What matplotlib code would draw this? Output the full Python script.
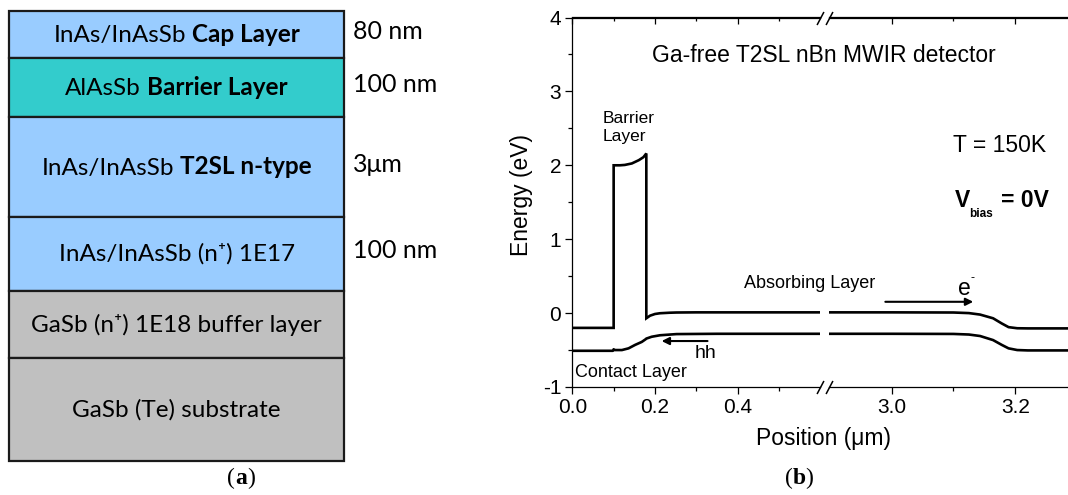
import numpy as np
import matplotlib
matplotlib.use('Agg')
import matplotlib.pyplot as plt
from matplotlib.offsetbox import TextArea, HPacker, AnnotationBbox

plt.rcParams['font.family'] = 'Liberation Sans'
plt.rcParams['axes.unicode_minus'] = False

# (a) layer stack, listed top to bottom
layer_plain = ['InAs/InAsSb', 'AlAsSb', 'InAs/InAsSb', 'InAs/InAsSb (n\u207a) 1E17',
               'GaSb (n\u207a) 1E18 buffer layer', 'GaSb (Te) substrate']
layer_bold = ['Cap Layer', 'Barrier Layer', 'T2SL n-type', '', '', '']
layer_thickness = ['80 nm', '100 nm', '3\u03bcm', '100 nm', '', '']
layer_height = [47, 59, 100, 74, 67, 103]
layer_color = ['#99CCFF', '#33CCCC', '#99CCFF', '#99CCFF', '#C0C0C0', '#C0C0C0']

# (b) band edges, first segment (0 - 0.6 um)
cb_left_x = [0.0, 0.1, 0.1, 0.115, 0.127, 0.144, 0.161, 0.172, 0.179, 0.179, 0.188, 0.2, 0.212, 0.235, 0.252, 0.3, 0.4, 0.599]
cb_left_e = [-0.2, -0.2, 2.0, 2.0, 2.005, 2.025, 2.07, 2.11, 2.16, -0.07, -0.035, -0.012, -0.002, 0.005, 0.008, 0.01, 0.01, 0.01]
vb_left_x = [0.0, 0.098, 0.1, 0.102, 0.12, 0.136, 0.152, 0.168, 0.177, 0.179, 0.192, 0.212, 0.252, 0.35, 0.599]
vb_left_e = [-0.51, -0.51, -0.49, -0.5, -0.5, -0.477, -0.43, -0.39, -0.355, -0.345, -0.32, -0.30, -0.284, -0.28, -0.28]

# second segment (2.9 - 3.3 um)
cb_right_x = [2.899, 3.0, 3.1, 3.125, 3.143, 3.164, 3.178, 3.189, 3.203, 3.22, 3.286]
cb_right_e = [0.01, 0.01, 0.008, 0.0, -0.02, -0.07, -0.14, -0.19, -0.205, -0.207, -0.207]
vb_right_x = [2.899, 3.0, 3.1, 3.125, 3.143, 3.164, 3.178, 3.189, 3.203, 3.22, 3.286]
vb_right_e = [-0.28, -0.28, -0.282, -0.29, -0.31, -0.365, -0.43, -0.477, -0.5, -0.505, -0.505]

left_major = [0.0, 0.2, 0.4]
left_minor = [0.1, 0.3, 0.5]
right_major = [3.0, 3.2]
right_minor = [3.1]
y_major = [-1, 0, 1, 2, 3, 4]
y_minor = [-0.5, 0.5, 1.5, 2.5, 3.5]

W, H = 1068, 495
fig = plt.figure(figsize=(W / 100, H / 100), dpi=100)


def mixed_label(ax, x, y, parts, size, family, xycoords='data', sep=4.5):
    areas = [TextArea(t, textprops=dict(fontsize=size, fontweight=w, family=family))
             for t, w in parts if t]
    box = HPacker(children=areas, align='baseline', pad=0, sep=sep)
    ab = AnnotationBbox(box, (x, y), xycoords=xycoords, frameon=False,
                        box_alignment=(0.5, 0.5), pad=0)
    ax.add_artist(ab)


# ---------------- (a) layer structure ----------------
ax_a = fig.add_axes([9.3 / W, 34 / H, 334.7 / W, 450 / H])
total = sum(layer_height)
tops = total - np.concatenate([[0], np.cumsum(layer_height)[:-1]])
for name, bold, thick, h, top, c in zip(layer_plain, layer_bold, layer_thickness,
                                        layer_height, tops, layer_color):
    ax_a.bar(0, h, bottom=top - h, width=1, align='edge', color=c,
             edgecolor='#1a1a1a', linewidth=1.6, clip_on=False)
    mid = top - h / 2
    mixed_label(ax_a, 0.5, mid, [(name, 'normal'), (bold, 'bold')], 17.5,
                ['Lato', 'DejaVu Sans'])
    if thick:
        ax_a.text(1.027, mid + 3, thick, fontsize=18, family='Lato',
                  ha='left', va='center')
ax_a.set_xlim(0, 1)
ax_a.set_ylim(0, total)
ax_a.axis('off')

# ---------------- (b) band diagram with broken x axis ----------------
bot, hgt = 108 / H, 369.5 / H
ax_l = fig.add_axes([572.3 / W, bot, 247.7 / W, hgt])
ax_r = fig.add_axes([829 / W, bot, 239 / W, hgt])
for ax in (ax_l, ax_r):
    ax.patch.set_visible(False)

ax_l.plot(cb_left_x, cb_left_e, color='k', lw=1.9, solid_joinstyle='miter')
ax_l.plot(vb_left_x, vb_left_e, color='k', lw=1.9)
ax_r.plot(cb_right_x, cb_right_e, color='k', lw=1.9)
ax_r.plot(vb_right_x, vb_right_e, color='k', lw=1.9)

ax_l.set_xlim(0, 0.599)
ax_r.set_xlim(2.899, 3.285)
for ax, major, minor in ((ax_l, left_major, left_minor), (ax_r, right_major, right_minor)):
    ax.set_ylim(-1, 4)
    ax.set_xticks(major)
    ax.set_xticks(minor, minor=True)
    ax.set_xticklabels([f'{v:.1f}' for v in major])
    ax.tick_params(axis='x', which='major', direction='out', length=5, width=0.9,
                   labelsize=15, pad=3)
    ax.tick_params(axis='x', which='minor', direction='out', length=3, width=0.9)
    ax.spines['right'].set_visible(False)
    for s in ('top', 'bottom', 'left'):
        ax.spines[s].set_linewidth(0.9)
    top = ax.secondary_xaxis('top')
    top.set_xticks(major)
    top.set_xticks(minor, minor=True)
    top.tick_params(which='major', direction='in', length=5, width=0.9,
                    labeltop=False, labelbottom=False)
    top.tick_params(which='minor', direction='in', length=3, width=0.9)
    top.spines['top'].set_linewidth(0.9)

ax_l.set_yticks(y_major)
ax_l.set_yticks(y_minor, minor=True)
ax_l.tick_params(axis='y', which='major', direction='out', length=5, width=0.9,
                 labelsize=15, pad=3)
ax_l.tick_params(axis='y', which='minor', direction='out', length=3, width=0.9)
ax_l.set_ylabel('Energy (eV)', fontsize=16.5)
ax_l.yaxis.set_label_coords(-0.159, 0.52)
ax_r.spines['left'].set_visible(False)
ax_r.set_yticks([])

# break marks on the axis
slash = [(-1, -1.9), (1, 1.9)]
kw = dict(marker=slash, markersize=9.4, linestyle='none', color='k', mec='k',
          mew=1.1, clip_on=False)
ax_l.plot([1, 1], [0, 1], transform=ax_l.transAxes, **kw)
ax_r.plot([0, 0], [0, 1], transform=ax_r.transAxes, **kw)

# annotations
ax_l.text(0.609, 3.49, 'Ga-free T2SL nBn MWIR detector', fontsize=16.5,
          ha='center', va='center')
ax_l.text(0.074, 2.505, 'Barrier\nLayer', fontsize=12.5, ha='left', va='center',
          linespacing=1.25)
ax_l.text(0.4145, 0.40, 'Absorbing Layer', fontsize=13, ha='left', va='center')
ax_l.text(0.007, -0.806, 'Contact Layer', fontsize=13, ha='left', va='center')
ax_l.text(0.321, -0.545, 'hh', fontsize=14, ha='center', va='center')
ax_l.annotate('', xy=(0.216, -0.378), xytext=(0.327, -0.378),
              arrowprops=dict(arrowstyle='-|>', color='k', lw=1.5, mutation_scale=11,
                              shrinkA=0, shrinkB=0))

ax_r.annotate('', xy=(3.132, 0.153), xytext=(2.99, 0.153),
              arrowprops=dict(arrowstyle='-|>', color='k', lw=1.5, mutation_scale=11,
                              shrinkA=0, shrinkB=0), annotation_clip=False)
ax_r.text(3.118, 0.333, 'e', fontsize=16.5, ha='center', va='center')
ax_r.text(3.131, 0.47, '-', fontsize=9, ha='center', va='center')

ax_r.text(3.1, 2.27, 'T = 150K', fontsize=16.5, ha='left', va='center')
ax_r.text(3.102, 1.52, 'V', fontsize=16.5, fontweight='bold', ha='left', va='center')
ax_r.annotate('bias', xy=(3.102, 1.52), xytext=(10.3, -9.2), textcoords='offset points',
              fontsize=8.5, fontweight='bold', ha='left', va='center')
ax_r.annotate('= 0V', xy=(3.102, 1.52), xytext=(33.5, 0), textcoords='offset points',
              fontsize=16.5, fontweight='bold', ha='left', va='center')

fig.text(824 / W, (H - 439) / H, 'Position (\u03bcm)', fontsize=16.5,
         ha='center', va='center')

# panel tags
for tag, xc in (('a', 241), ('b', 799)):
    areas = [TextArea('(', textprops=dict(fontsize=17, family='Liberation Serif')),
             TextArea(tag, textprops=dict(fontsize=17, family='Liberation Serif',
                                          fontweight='bold')),
             TextArea(')', textprops=dict(fontsize=17, family='Liberation Serif'))]
    box = HPacker(children=areas, align='baseline', pad=0, sep=0)
    fig.add_artist(AnnotationBbox(box, (xc / W, (H - 478) / H), xycoords='figure fraction',
                                  frameon=False, box_alignment=(0.5, 0.5), pad=0))

fig.savefig('out.png', dpi=100)
